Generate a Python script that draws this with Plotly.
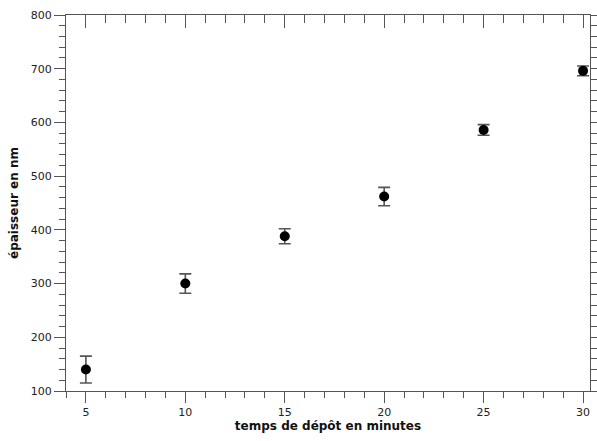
import plotly.graph_objects as go

temps = [5, 10, 15, 20, 25, 30]
epaisseur = [140, 300, 388, 462, 586, 696]
incertitude = [25, 18, 14, 17, 10, 9]

x_title = "temps de dépôt en minutes"
y_title = "épaisseur en nm"

axis_col = "#555555"
font_fam = "DejaVu Sans, Verdana, sans-serif"

fig = go.Figure()
fig.add_trace(go.Scatter(
    x=temps, y=epaisseur, mode="markers",
    marker=dict(color="black", size=10),
    error_y=dict(type="data", array=incertitude, visible=True,
                 color="#555555", thickness=1.6, width=6),
    showlegend=False, hoverinfo="x+y",
))
# invisible companion trace so the top (mirror) axis is drawn
fig.add_trace(go.Scatter(
    x=temps, y=epaisseur, mode="markers", xaxis="x2",
    marker=dict(color="rgba(0,0,0,0)", size=1),
    showlegend=False, hoverinfo="skip",
))

fig.update_layout(
    width=597, height=441,
    margin=dict(l=66, r=7, t=15, b=50, autoexpand=False),
    paper_bgcolor="white", plot_bgcolor="white",
    font=dict(family=font_fam, size=11, color="#222222"),
    xaxis=dict(
        range=[4, 30.35], tick0=5, dtick=5, ticks="outside", ticklen=11,
        tickwidth=1, tickcolor=axis_col, showline=True, linecolor=axis_col,
        linewidth=1, mirror=True, showgrid=False, zeroline=False, automargin=False,
        minor=dict(dtick=1, ticks="outside", ticklen=6, tickcolor=axis_col, showgrid=False),
        title=dict(text="<b>" + x_title + "</b>", font=dict(size=12, color="#111111"), standoff=2),
        tickfont=dict(size=11, color="#222222"),
    ),
    xaxis2=dict(
        overlaying="x", side="top", anchor="y", range=[4, 30.35], automargin=False,
        tick0=5, dtick=5, ticks="inside", ticklen=13, tickwidth=1, tickcolor=axis_col,
        showticklabels=False, showgrid=False, zeroline=False, showline=False,
        minor=dict(dtick=1, ticks="inside", ticklen=8, tickcolor=axis_col, showgrid=False),
    ),
    yaxis=dict(
        range=[100, 800], tick0=100, dtick=100, ticks="outside", ticklen=11,
        tickwidth=1, tickcolor=axis_col, showline=True, linecolor=axis_col,
        linewidth=1, mirror="ticks", showgrid=False, zeroline=False, automargin=False,
        minor=dict(dtick=20, ticks="outside", ticklen=6, tickcolor=axis_col, showgrid=False),
        title=dict(text="<b>" + y_title + "</b>", font=dict(size=12, color="#111111"), standoff=9),
        tickfont=dict(size=11, color="#222222"),
    ),
)

fig.write_html(
    "out.html",
    config={"displayModeBar": False},
    post_script="document.body.style.margin='0';document.body.style.padding='0';"
                "document.documentElement.style.overflow='hidden';",
)
